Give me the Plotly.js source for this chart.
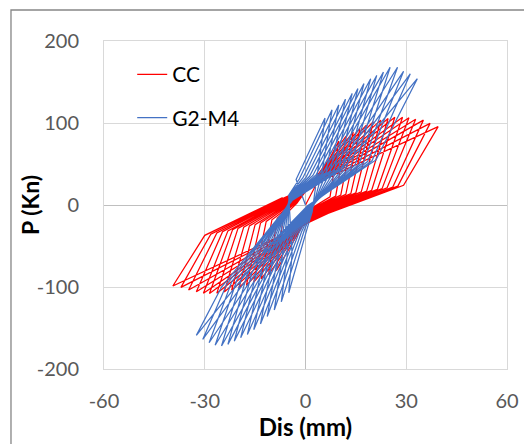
<!DOCTYPE html>
<html>
<head>
<meta charset="utf-8">
<script src="https://cdn.plot.ly/plotly-3.0.1.min.js"></script>
<style>
html,body{margin:0;padding:0;background:#fff;}
#chart{width:524px;height:444px;}
</style>
</head>
<body>
<div id="chart"></div>
<script>
// ---- axis ticks ----
const xTickVals = [-60, -30, 0, 30, 60];
const xTickText = ["-60", "-30", "0", "30", "60"];
const yTickVals = [-200, -100, 0, 100, 200];
const yTickText = ["-200", "-100", "0", "100", "200"];

// ---- CC specimen: per-cycle key points (mm, kN) ----
const ccPeakPosX = [9.9, 12.1, 14.2, 16.2, 18.2, 20.2, 22.4, 24.6, 26.6, 28.9, 30.8, 32.8, 35.1, 37.1, 39.5];
const ccPeakPosP = [78, 84, 89, 93.5, 97.5, 101.5, 103.5, 105.5, 107, 107, 106.5, 104.5, 103.5, 99.5, 95.5];
const ccKneePosX = [7.3, 9.0, 10.5, 12.0, 13.5, 15.0, 16.6, 18.2, 19.7, 21.4, 22.8, 24.3, 26.0, 27.5, 29.2];
const ccKneePosP = [10, 11, 12, 13, 14, 15, 16, 17, 18, 19, 20, 21, 22, 23, 24];
const ccPinchAX = [2.5, 2.8, 3.1, 3.4, 3.7, 4.0, 4.3, 4.6, 4.9, 5.2, 5.5, 5.8, 6.1, 6.4, 6.7];
const ccPinchAP = [-2, -2.6, -3.2, -3.8, -4.4, -5, -5.6, -6.2, -6.8, -7.4, -8, -8.6, -9.2, -9.8, -10.4];
const ccPeakNegX = [-8.7, -11.0, -13.2, -15.4, -17.6, -19.8, -22.0, -24.2, -26.4, -28.6, -30.4, -32.5, -34.8, -37.1, -39.5];
const ccPeakNegP = [-80, -85, -90, -94, -98, -101, -104, -106, -107.5, -108, -107.5, -105.7, -103.7, -100.4, -98.8];
const ccKneeNegX = [-6.6, -8.4, -10.0, -11.7, -13.4, -15.0, -16.7, -18.4, -20.1, -21.7, -23.1, -24.7, -26.4, -28.2, -30.0];
const ccKneeNegP = [-14, -16, -18, -20, -22, -24, -25.5, -27, -28.5, -30, -31.5, -32.5, -34, -35.5, -37];
const ccPinchBX = [-2.6, -2.9, -3.2, -3.5, -3.8, -4.1, -4.4, -4.7, -5.0, -5.3, -5.6, -5.9, -6.2, -6.5, -6.8];
const ccPinchBP = [2.0, 2.5, 3.0, 3.5, 4.0, 4.5, 5.0, 5.5, 6.0, 6.5, 7.0, 7.5, 8.0, 8.5, 9.0];

// ---- G2-M4 specimen ----
const g2LoadPosX = [-2.8, -1.8, -0.8, 0.2, 1.2, 2.2, 3.2, 4.2, 5.2, 6.2, 7.2, 8.2, 9.2, 10.1, 11.0];
const g2LoadPosP = [31, 32, 33, 34, 35, 36, 37, 38, 39, 40, 41, 42, 42.5, 43, 44];
const g2PeakPosX = [5.8, 7.9, 9.9, 11.9, 13.9, 15.6, 17.4, 19.4, 21.2, 23.2, 25.2, 27.4, 29.2, 31.2, 33.3];
const g2PeakPosP = [106, 116, 122, 129, 136, 142, 148, 154, 158, 162, 168, 168, 163, 160, 154];
const g2KneePosX = [3.5, 4.8, 6.0, 7.3, 8.5, 9.8, 11.0, 12.3, 13.5, 14.8, 16.0, 17.3, 18.5, 19.8, 21.0];
const g2KneePosP = [35, 37, 38, 40, 41, 43, 44, 46, 47, 49, 50, 52, 53, 54, 55];
const g2PinchAX = [2.0, 1.9, 1.8, 1.7, 1.6, 1.5, 1.4, 1.3, 1.2, 1.1, 1.0, 0.9, 0.8, 0.7, 0.6];
const g2PinchAP = [-8, -7.5, -7, -6.5, -6, -5.5, -5, -4.5, -4, -3.5, -3, -2.5, -2, -1.5, -1];
const g2LoadNegX = [0.4, -0.4, -1.2, -2.0, -2.8, -3.6, -4.4, -5.2, -6.0, -6.8, -7.6, -8.4, -9.2, -10.1, -11.0];
const g2LoadNegP = [-30, -31.5, -33, -34.5, -36, -37.5, -39, -40.5, -42, -43.5, -45, -46.5, -48, -49, -50];
const g2PeakNegX = [-5.0, -7.2, -9.3, -11.4, -13.4, -15.4, -17.3, -19.3, -21.2, -23.1, -25.0, -26.9, -28.7, -30.6, -32.5];
const g2PeakNegP = [-107, -118, -128, -136, -145, -152, -158, -162, -166, -170, -172, -171, -168, -164, -159];
const g2KneeNegX = [-4.0, -5.5, -7.0, -8.5, -10.0, -11.5, -13.0, -14.5, -16.0, -17.5, -19.0, -20.5, -22.0, -23.5, -25.0];
const g2KneeNegP = [-60, -63, -66, -69, -72, -75, -78, -80, -83, -86, -89, -92, -94, -97, -100];
const g2PinchBX = [-5.0, -4.9, -4.8, -4.7, -4.6, -4.5, -4.4, -4.3, -4.3, -4.2, -4.2, -4.1, -4.1, -4.0, -4.0];
const g2PinchBP = [12, 11.5, 11, 10.5, 10, 9.5, 9, 8.5, 8, 7.5, 7, 6.5, 6, 5.5, 5];

const seriesNames = ["CC", "G2-M4"];
const seriesColors = ["#FF0000", "#4472C4"];

// Joins each cycle's key points in loading order:
// [loading knee +] -> peak + -> knee + -> pinch -> [loading knee -] -> peak - -> knee - -> pinch
function buildPath(s) {
  const x = [0], y = [0];
  for (let i = 0; i < s.px.length; i++) {
    if (s.ex) { x.push(s.ex[i]); y.push(s.ep[i]); }
    x.push(s.px[i], s.bx[i], s.pax[i]);
    y.push(s.pp[i], s.bp[i], s.pap[i]);
    if (s.fx) { x.push(s.fx[i]); y.push(s.fp[i]); }
    x.push(s.nx[i], s.dx[i], s.pbx[i]);
    y.push(s.np[i], s.dp[i], s.pbp[i]);
  }
  return {x, y};
}

const cc = buildPath({
  px: ccPeakPosX, pp: ccPeakPosP, bx: ccKneePosX, bp: ccKneePosP,
  pax: ccPinchAX, pap: ccPinchAP, nx: ccPeakNegX, np: ccPeakNegP,
  dx: ccKneeNegX, dp: ccKneeNegP, pbx: ccPinchBX, pbp: ccPinchBP
});
const g2 = buildPath({
  ex: g2LoadPosX, ep: g2LoadPosP,
  px: g2PeakPosX, pp: g2PeakPosP, bx: g2KneePosX, bp: g2KneePosP,
  pax: g2PinchAX, pap: g2PinchAP, fx: g2LoadNegX, fp: g2LoadNegP,
  nx: g2PeakNegX, np: g2PeakNegP,
  dx: g2KneeNegX, dp: g2KneeNegP, pbx: g2PinchBX, pbp: g2PinchBP
});

const FONT = "Lato, 'Open Sans', sans-serif";

const traces = [cc, g2].map((d, k) => ({
  type: "scatter", mode: "lines",
  x: d.x, y: d.y,
  name: seriesNames[k],
  legendgroup: "g" + k,
  line: {color: seriesColors[k], width: 1.25},
  hoverinfo: "skip"
}));

const axisCommon = {
  showgrid: true, gridcolor: "#d9d9d9", gridwidth: 1,
  zeroline: true, zerolinecolor: "#bfbfbf", zerolinewidth: 1,
  showline: true, linecolor: "#d9d9d9", linewidth: 1, mirror: true,
  ticks: "", tickmode: "array",
  tickfont: {family: FONT, size: 20, color: "#595959"},
  fixedrange: true
};

const layout = {
  width: 524, height: 444,
  margin: {l: 104, r: 17, t: 41, b: 75},
  paper_bgcolor: "#ffffff", plot_bgcolor: "#ffffff",
  showlegend: true,
  legend: {
    x: 0.07, y: 0.96, xanchor: "left", yanchor: "top",
    bgcolor: "rgba(0,0,0,0)", borderwidth: 0,
    font: {family: FONT, size: 21, color: "#000000"},
    tracegroupgap: 13
  },
  xaxis: Object.assign({}, axisCommon, {
    range: [-60, 60], tickvals: xTickVals, ticktext: xTickText, ticklabelstandoff: 14,
    title: {text: "<b>Dis (mm)</b>", font: {family: FONT, size: 24, color: "#000"}, standoff: 4}
  }),
  yaxis: Object.assign({}, axisCommon, {
    range: [-200, 200], tickvals: yTickVals, ticktext: yTickText, ticklabelstandoff: 20
  }),
  annotations: [{
    text: "<b>P (Kn)</b>", xref: "paper", yref: "paper",
    x: (30 - 104) / 403, y: 0.5, xanchor: "center", yanchor: "middle",
    textangle: -90, showarrow: false,
    font: {family: FONT, size: 23, color: "#000"}
  }],
  shapes: [{
    type: "rect", xref: "paper", yref: "paper",
    x0: -0.2308, x1: 1.3, y0: -0.4, y1: 1.0945,
    line: {color: "#868686", width: 1.3}, fillcolor: "rgba(0,0,0,0)", layer: "below"
  }]
};

Plotly.newPlot("chart", traces, layout, {staticPlot: true, displayModeBar: false});
</script>
</body>
</html>
